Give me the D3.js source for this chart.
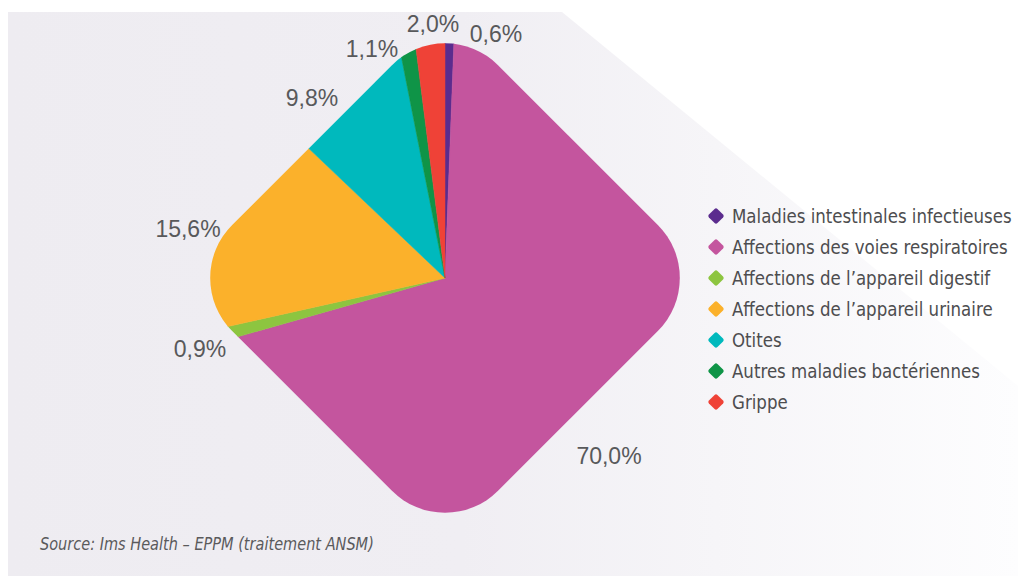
<!doctype html>
<html>
<head>
<meta charset="utf-8">
<style>
body{
  margin:0;
  background-color:#ffffff;
}
.pct{
  font-family:"Liberation Sans", Arial, sans-serif;
  font-size:23px;
  fill:#58595b;
}
.leg{
  font-family:"DejaVu Sans", sans-serif;
  font-size:20px;
  fill:#4d4d4f;
}
.src{
  font-family:"DejaVu Sans", sans-serif;
  font-size:18px;
  font-style:italic;
  fill:#5a5a5c;
}
</style>
<script src="https://d3js.org/d3.v7.min.js"></script>
</head>
<body>
<svg width="1018" height="576"></svg>
<script>
// data, in pie order (clockwise from 12 o'clock)
var categories = ["Maladies intestinales infectieuses",
                  "Affections des voies respiratoires",
                  "Affections de l\u2019appareil digestif",
                  "Affections de l\u2019appareil urinaire",
                  "Otites",
                  "Autres maladies bactériennes",
                  "Grippe"];
var values = [0.6, 70.0, 0.9, 15.6, 9.8, 1.1, 2.0];
var labels = ["0,6%", "70,0%", "0,9%", "15,6%", "9,8%", "1,1%", "2,0%"];
var colors = ["#5b2c8e", "#c4559e", "#8dc540", "#fbb12b", "#00b9bd", "#0f9447", "#ef4237"];

// label nudges (px from pie centre), same order
var labelPos = [[51,-236],[164,186],[-245,79],[-257,-41],[-133,-172],[-73,-221],[-12,-246]];

var svg = d3.select("svg"),
    width = +svg.attr("width"),
    height = +svg.attr("height");

var cx = 445, cy = 278,
    side = 376, corner = 75;

// background panel with light gradient and diagonal cut
var defs = svg.append("defs");
var grad = defs.append("linearGradient")
    .attr("id", "bg")
    .attr("x1", "0").attr("x2", "1").attr("y1", "0").attr("y2", "0");
grad.append("stop").attr("offset", "0").attr("stop-color", "#eeecf1");
grad.append("stop").attr("offset", "0.45").attr("stop-color", "#f0eef3");
grad.append("stop").attr("offset", "0.7").attr("stop-color", "#f6f5f8");
grad.append("stop").attr("offset", "1").attr("stop-color", "#fdfdfe");

svg.append("path")
    .attr("d", "M8,12 L562,12 L1018,386 L1018,576 L8,576 Z")
    .attr("fill", "url(#bg)");

// rounded diamond clip
defs.append("clipPath")
    .attr("id", "diamond")
  .append("rect")
    .attr("x", -side / 2).attr("y", -side / 2)
    .attr("width", side).attr("height", side)
    .attr("rx", corner).attr("ry", corner)
    .attr("transform", "rotate(45)");

var pie = d3.pie()
    .value(function(d) { return d; })
    .sort(null);

var arc = d3.arc()
    .innerRadius(0)
    .outerRadius(330);

var g = svg.append("g")
    .attr("transform", "translate(" + cx + "," + cy + ")");

g.append("g")
    .attr("clip-path", "url(#diamond)")
  .selectAll("path")
    .data(pie(values))
    .enter()
    .append("path")
    .attr("d", arc)
    .attr("fill", function(d, i) { return colors[i]; })
    .attr("stroke", function(d, i) { return colors[i]; })
    .attr("stroke-width", 0.5);

g.selectAll(".pct")
    .data(labels)
    .enter()
    .append("text")
    .attr("class", "pct")
    .attr("text-anchor", "middle")
    .attr("x", function(d, i) { return labelPos[i][0]; })
    .attr("y", function(d, i) { return labelPos[i][1]; })
    .text(function(d) { return d; });

// legend
var y = d3.scalePoint()
    .domain(categories)
    .range([216, 402]);

var leg = svg.append("g")
    .attr("transform", "translate(716,0)");

var item = leg.selectAll("g")
    .data(categories)
    .enter()
    .append("g")
    .attr("transform", function(d) { return "translate(0," + y(d) + ")"; });

item.append("rect")
    .attr("x", -6).attr("y", -6)
    .attr("width", 12).attr("height", 12)
    .attr("rx", 2)
    .attr("transform", "rotate(45)")
    .attr("fill", function(d, i) { return colors[i]; });

var legText = item.append("text")
    .attr("class", "leg")
    .attr("dy", "0.36em")
    .text(function(d) { return d; });

// condensed look: squeeze horizontally
var k = 280 / legText.node().getComputedTextLength();
legText.attr("transform", "translate(16,0) scale(" + k + ",1)");

var src = svg.append("text")
    .attr("class", "src")
    .text("Source: Ims Health \u2013 EPPM (traitement ANSM)");
var ks = 334 / src.node().getComputedTextLength();
src.attr("transform", "translate(40,550) scale(" + ks + ",1)");
</script>
</body>
</html>
